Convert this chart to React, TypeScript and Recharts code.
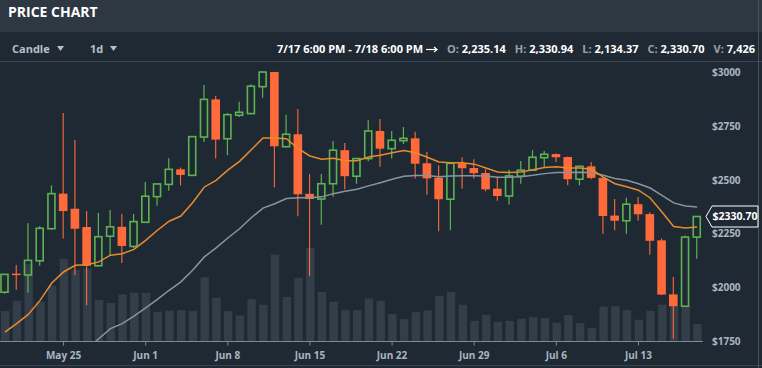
import React from 'react';
import { ComposedChart, Bar, Line, XAxis, YAxis, ReferenceLine } from 'recharts';

const dates = [
  'May 20', 'May 21', 'May 22', 'May 23', 'May 24', 'May 25', 'May 26', 'May 27', 'May 28', 'May 29', 'May 30', 'May 31',
  'Jun 1', 'Jun 2', 'Jun 3', 'Jun 4', 'Jun 5', 'Jun 6', 'Jun 7', 'Jun 8', 'Jun 9', 'Jun 10', 'Jun 11', 'Jun 12', 'Jun 13',
  'Jun 14', 'Jun 15', 'Jun 16', 'Jun 17', 'Jun 18', 'Jun 19', 'Jun 20', 'Jun 21', 'Jun 22', 'Jun 23', 'Jun 24', 'Jun 25',
  'Jun 26', 'Jun 27', 'Jun 28', 'Jun 29', 'Jun 30', 'Jul 1', 'Jul 2', 'Jul 3', 'Jul 4', 'Jul 5', 'Jul 6', 'Jul 7', 'Jul 8',
  'Jul 9', 'Jul 10', 'Jul 11', 'Jul 12', 'Jul 13', 'Jul 14', 'Jul 15', 'Jul 16', 'Jul 17', 'Jul 18',
];

const opens = [
  1979, 2063, 2059, 2125, 2274, 2437, 2367, 2282, 2102, 2239, 2283, 2192,
  2304, 2423, 2480, 2550, 2522, 2700, 2875, 2692, 2801, 2809, 2934, 3002, 2655,
  2713, 2436, 2412, 2483, 2639, 2518, 2600, 2728, 2646, 2683, 2694, 2578,
  2511, 2411, 2578, 2556, 2533, 2460, 2426, 2518, 2546, 2604, 2621, 2607, 2504,
  2564, 2510, 2335, 2311, 2388, 2342, 2220, 1969, 1914, 2235.14,
];
const highs = [
  2063, 2105, 2299, 2287, 2476, 2812, 2686, 2356, 2347, 2361, 2342, 2342,
  2491, 2484, 2601, 2559, 2704, 2942, 2891, 2812, 2864, 2945, 3004, 3003, 2803,
  2830, 2528, 2528, 2682, 2672, 2602, 2778, 2784, 2728, 2747, 2724, 2631,
  2569, 2580, 2606, 2597, 2550, 2516, 2548, 2589, 2639, 2635, 2623, 2609, 2566,
  2584, 2512, 2412, 2418, 2421, 2350, 2228, 2050, 2242, 2330.94,
];
const lows = [
  1972, 1991, 1977, 2102, 2270, 2228, 2058, 1918, 2100, 2151, 2115, 2184,
  2302, 2381, 2451, 2475, 2520, 2677, 2600, 2615, 2793, 2806, 2883, 2467, 2653,
  2332, 2053, 2293, 2422, 2457, 2483, 2587, 2562, 2600, 2668, 2507, 2432,
  2262, 2267, 2460, 2507, 2448, 2404, 2386, 2483, 2544, 2561, 2584, 2476, 2476,
  2504, 2251, 2267, 2251, 2311, 2153, 1966, 1763, 1912, 2134.37,
];
const closes = [
  2062, 2061, 2127, 2276, 2437, 2356, 2274, 2102, 2237, 2283, 2194, 2307,
  2425, 2482, 2550, 2524, 2702, 2875, 2688, 2804, 2815, 2936, 3002, 2657, 2713,
  2434, 2412, 2483, 2639, 2518, 2600, 2728, 2646, 2685, 2694, 2576, 2508,
  2411, 2578, 2555, 2532, 2457, 2426, 2519, 2546, 2606, 2620, 2606, 2504, 2564,
  2510, 2333, 2311, 2388, 2341, 2218, 1968, 1914, 2235, 2330.7,
];
const volumes = [
  13000, 17400, 33000, 17000, 23800, 35400, 30500, 31200, 17800, 16500, 20100, 20900,
  20800, 12700, 13200, 13400, 13100, 27500, 18700, 13000, 11100, 18100, 15700, 37100, 19000,
  27100, 40000, 21200, 17000, 13500, 13400, 18400, 17400, 11700, 9600, 12500, 13300,
  19500, 21200, 15700, 8800, 11400, 8400, 8800, 9700, 10400, 10000, 8000, 11300, 7900,
  5700, 14900, 15100, 13400, 9300, 13100, 15700, 15200, 14900, 7426,
];
const maFast = [
  1794, 1833, 1876, 1941, 2022, 2073, 2104, 2107, 2120, 2151, 2158, 2178,
  2220, 2267, 2309, 2333, 2395, 2468, 2499, 2546, 2587, 2641, 2696, 2696, 2692,
  2646, 2612, 2597, 2601, 2590, 2590, 2607, 2615, 2627, 2637, 2627, 2606,
  2584, 2581, 2580, 2574, 2556, 2538, 2535, 2538, 2548, 2558, 2562, 2556, 2556,
  2550, 2514, 2483, 2469, 2453, 2417, 2352, 2284, 2277, 2282,
];
const maSlow = [
  null, null, null, null, null, null, null, 1715, 1763, 1810, 1833, 1868,
  1906, 1946, 1988, 2027, 2081, 2143, 2185, 2231, 2274, 2325, 2370, 2390, 2414,
  2418, 2418, 2422, 2437, 2448, 2457, 2473, 2488, 2504, 2518, 2521, 2521,
  2516, 2519, 2520, 2520, 2519, 2513, 2513, 2516, 2522, 2530, 2535, 2535, 2536,
  2535, 2522, 2507, 2499, 2483, 2463, 2429, 2394, 2380, 2375,
];

const xTicks = ['May 25', 'Jun 1', 'Jun 8', 'Jun 15', 'Jun 22', 'Jun 29', 'Jul 6', 'Jul 13'];
const priceTicks = [1750, 2000, 2250, 2500, 2750, 3000];
const lastPrice = 2330.7;

const BG = '#1f2933';
const HEADER = '#2e3842';
const GREEN = '#5db352';
const ORANGE = '#ff6a3b';
const LABEL = '#aab6c2';

const data = dates.map((d, i) => ({
  date: d,
  open: opens[i],
  high: highs[i],
  low: lows[i],
  close: closes[i],
  range: [lows[i], highs[i]],
  volume: volumes[i],
  maFast: maFast[i],
  maSlow: maSlow[i],
}));

const Candle = (props: any) => {
  const { x, y, width, height, payload } = props;
  if (!payload) return null;
  const { open, close, high, low } = payload;
  const top = Math.min(y, y + height);
  const h = Math.abs(height);
  const ratio = h / (high - low);
  const cx = x + width / 2;
  const yO = top + (high - open) * ratio;
  const yC = top + (high - close) * ratio;
  const up = close >= open;
  const color = up ? GREEN : ORANGE;
  let bTop = Math.min(yO, yC);
  let bH = Math.abs(yO - yC);
  if (bH < 1.5) {
    bTop -= (1.5 - bH) / 2;
    bH = 1.5;
  }
  if (up) {
    return (
      <g>
        <line x1={cx} x2={cx} y1={top} y2={bTop} stroke={color} strokeWidth={1.2} />
        <line x1={cx} x2={cx} y1={bTop + bH} y2={top + h} stroke={color} strokeWidth={1.2} />
        <rect x={cx - 3.5} y={bTop} width={7} height={bH} fill="none" stroke={color} strokeWidth={1.6} />
      </g>
    );
  }
  return (
    <g>
      <line x1={cx} x2={cx} y1={top} y2={top + h} stroke={color} strokeWidth={1.1} />
      <rect x={cx - 4.3} y={bTop} width={8.6} height={bH} fill={color} />
    </g>
  );
};

const PriceTag = (props: any) => {
  const vb = props.viewBox;
  if (!vb) return null;
  const yy = vb.y;
  const x0 = vb.x + vb.width + 3;
  const hh = 10.5;
  const pts = `${x0},${yy} ${x0 + 6},${yy - hh} ${x0 + 52},${yy - hh} ${x0 + 52},${yy + hh} ${x0 + 6},${yy + hh}`;
  return (
    <g>
      <polygon points={pts} fill={BG} stroke="#ffffff" strokeWidth={1} />
      <text x={x0 + 29} y={yy} dy="0.36em" textAnchor="middle" fill="#ffffff" fontSize={10.5} fontWeight={700}
        fontFamily='"Open Sans", sans-serif'>
        {'$' + lastPrice.toFixed(2)}
      </text>
    </g>
  );
};

const Tri = () => (
  <svg width="7" height="5" style={{ marginLeft: 7, verticalAlign: 'middle', position: 'relative', top: -2 }}>
    <polygon points="0,0 7,0 3.5,5" fill="#b4c0cc" />
  </svg>
);

const Arrow = () => (
  <svg width="12" height="7" style={{ marginLeft: 3, verticalAlign: 'middle', position: 'relative', top: -1 }}>
    <line x1="0" y1="3.5" x2="11" y2="3.5" stroke="#ffffff" strokeWidth="1.2" />
    <polyline points="8,1 11,3.5 8,6" fill="none" stroke="#ffffff" strokeWidth="1.2" />
  </svg>
);

const lbl: React.CSSProperties = { color: '#97a4b0', marginLeft: 9 };
const val: React.CSSProperties = { color: '#ffffff' };

export default function App() {
  return (
    <div style={{ position: 'absolute', left: 0, top: 0, width: 762, height: 368, background: BG, overflow: 'hidden', fontFamily: '"Open Sans", sans-serif' }}>
      <div style={{ position: 'absolute', left: 0, top: 0, width: 762, height: 32, background: HEADER }} />
      <div style={{ position: 'absolute', left: 8, top: 0, height: 24, lineHeight: '24px', fontSize: 14, fontWeight: 700, color: '#ffffff' }}>
        PRICE CHART
      </div>
      <div style={{ position: 'absolute', left: 0, top: 61, width: 762, height: 1, background: '#3c4751' }} />
      <div style={{ position: 'absolute', left: 0, top: 365, width: 762, height: 1, background: '#3a4550' }} />
      <div style={{ position: 'absolute', left: 758, top: 0, width: 1, height: 368, background: '#46525c' }} />

      <div style={{ position: 'absolute', left: 12, top: 39, lineHeight: '20px', fontSize: 11, fontWeight: 700, color: '#b4c0cc', whiteSpace: 'nowrap' }}>
        Candle<Tri />
      </div>
      <div style={{ position: 'absolute', left: 90, top: 39, lineHeight: '20px', fontSize: 11, fontWeight: 700, color: '#b4c0cc', whiteSpace: 'nowrap' }}>
        1d<Tri />
      </div>
      <div style={{ position: 'absolute', right: 7, top: 39, lineHeight: '20px', fontSize: 11, fontWeight: 700, color: '#ffffff', whiteSpace: 'nowrap' }}>
        <span>7/17 6:00 PM - 7/18 6:00 PM</span><Arrow />
        <span style={lbl}>O: </span><span style={val}>2,235.14</span>
        <span style={lbl}>H: </span><span style={val}>2,330.94</span>
        <span style={lbl}>L: </span><span style={val}>2,134.37</span>
        <span style={lbl}>C: </span><span style={val}>2,330.70</span>
        <span style={lbl}>V: </span><span style={val}>7,426</span>
      </div>

      <div style={{ position: 'absolute', left: -1, top: 0 }}>
        <ComposedChart width={763} height={368} data={data} margin={{ top: 63, right: 0, bottom: 0, left: 0 }}>
          <XAxis xAxisId="main" dataKey="date" type="category" ticks={xTicks} interval={0} height={26.5}
            axisLine={{ stroke: '#7d8995' }} tickLine={{ stroke: '#7d8995' }} tickSize={4} tickMargin={6}
            tick={{ fill: LABEL, fontSize: 10, fontWeight: 700, fontFamily: '"Open Sans", sans-serif' }} />
          <XAxis xAxisId="vol" dataKey="date" type="category" hide />
          <YAxis yAxisId="price" orientation="right" width={59} domain={[1750, 3044]} allowDataOverflow
            ticks={priceTicks} interval={0} axisLine={false} tickLine={false} tickSize={0} tickMargin={9}
            tickFormatter={(v: number) => '$' + v}
            tick={{ fill: LABEL, fontSize: 10, fontWeight: 700, fontFamily: '"Open Sans", sans-serif', textAnchor: 'start' }} />
          <YAxis yAxisId="vol" hide domain={[0, 119000]} />
          <Bar xAxisId="vol" yAxisId="vol" dataKey="volume" fill="#343e48" barSize={8.4} isAnimationActive={false} />
          <Line xAxisId="main" yAxisId="price" dataKey="maSlow" type="linear" stroke="#8a949e" strokeWidth={1.5} dot={false} activeDot={false} isAnimationActive={false} />
          <Line xAxisId="main" yAxisId="price" dataKey="maFast" type="linear" stroke="#e88b2e" strokeWidth={1.5} dot={false} activeDot={false} isAnimationActive={false} />
          <Bar xAxisId="main" yAxisId="price" dataKey="range" barSize={9} shape={<Candle />} isAnimationActive={false} />
          <ReferenceLine xAxisId="main" yAxisId="price" y={lastPrice} stroke="none" label={<PriceTag />} />
        </ComposedChart>
      </div>
    </div>
  );
}
